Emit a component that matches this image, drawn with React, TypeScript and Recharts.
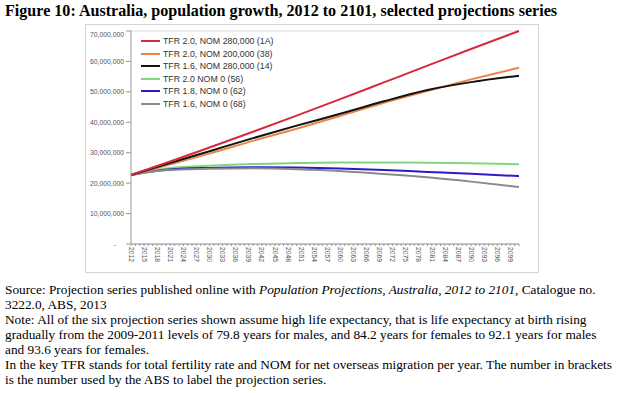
import { CartesianGrid, Line, LineChart, XAxis, YAxis } from 'recharts'

// projection years (values in millions)
const years = [2012, 2020, 2030, 2040, 2050, 2060, 2070, 2080, 2090, 2101]

const tfr20Nom280 = [22.7, 26.6, 31.7, 36.9, 42.2, 47.6, 53.1, 58.6, 64.1, 70.0]
const tfr20Nom200 = [22.7, 25.8, 29.7, 33.9, 37.9, 42.1, 46.4, 50.3, 54.1, 57.9]
const tfr16Nom280 = [22.7, 26.2, 30.5, 34.8, 38.9, 42.8, 46.9, 50.6, 53.2, 55.3]
const tfr20Nom0 = [22.7, 24.8, 25.7, 26.3, 26.6, 26.8, 26.8, 26.7, 26.5, 26.2]
const tfr18Nom0 = [22.7, 24.4, 25.0, 25.2, 25.1, 24.8, 24.3, 23.7, 23.1, 22.3]
const tfr16Nom0 = [22.7, 24.2, 24.7, 24.9, 24.6, 24.0, 23.0, 21.9, 20.5, 18.7]

const yTicks = [0, 10000000, 20000000, 30000000, 40000000, 50000000, 60000000, 70000000]
const allYears = Array.from({ length: 90 }, (_, i) => 2012 + i)
const labelYears = Array.from({ length: 30 }, (_, i) => 2012 + i * 3)

const series = [
  { key: 's1A', name: 'TFR 2.0, NOM 280,000 (1A)', color: '#d62a3c', values: tfr20Nom280 },
  { key: 's38', name: 'TFR 2.0, NOM 200,000 (38)', color: '#e8864a', values: tfr20Nom200 },
  { key: 's14', name: 'TFR 1.6, NOM 280,000 (14)', color: '#111111', values: tfr16Nom280 },
  { key: 's56', name: 'TFR 2.0 NOM 0 (56)', color: '#7ed77e', values: tfr20Nom0 },
  { key: 's62', name: 'TFR 1.8, NOM 0 (62)', color: '#3018c8', values: tfr18Nom0 },
  { key: 's68', name: 'TFR 1.6, NOM 0 (68)', color: '#8a8a8a', values: tfr16Nom0 }
]

const drawOrder = ['s56', 's62', 's68', 's38', 's14', 's1A']

const data = years.map((year, i) => {
  const row: Record<string, number> = { year }
  series.forEach(s => { row[s.key] = s.values[i] * 1000000 })
  return row
})

const chartFont = '"Liberation Sans", Arial, sans-serif'

const YTick = (props: any) => {
  const { x, y, payload } = props
  const v = payload.value as number
  const label = v === 0 ? '-' : v.toLocaleString('en-US')
  return (
    <text x={v === 0 ? x - 8 : x} y={y} dy={2.5} textAnchor="end" fontSize={6.8} fill="#555" fontFamily={chartFont}>
      {label}
    </text>
  )
}

const XTick = (props: any) => {
  const { x, y, payload } = props
  const v = payload.value as number
  if (!labelYears.includes(v)) return <g />
  return (
    <text
      x={x}
      y={y}
      transform={`rotate(90 ${x} ${y})`}
      dy={2.3}
      textAnchor="start"
      fontSize={6.8}
      fill="#555"
      fontFamily={chartFont}
    >
      {v}
    </text>
  )
}

// key drawn over the plot, top left
const KeyBox = () => (
  <div style={{ position: 'absolute', left: 55, top: 10, fontFamily: chartFont, fontSize: 8.8, color: '#333' }}>
    {series.map(s => (
      <div key={s.key} style={{ display: 'flex', alignItems: 'center', height: 12.5, whiteSpace: 'nowrap' }}>
        <span style={{ display: 'inline-block', width: 19, height: 2, background: s.color, marginRight: 3 }} />
        {s.name}
      </div>
    ))}
  </div>
)

export default function App() {
  return (
    <div style={{ position: 'absolute', left: 0, top: 0, width: 617, height: 393, background: '#fff', fontFamily: '"Liberation Serif", "Times New Roman", serif', color: '#000' }}>
      <div style={{ position: 'absolute', left: 5, top: 2, fontSize: 16.1, fontWeight: 'bold', whiteSpace: 'nowrap' }}>
        Figure 10: Australia, population growth, 2012 to 2101, selected projections series
      </div>

      <div style={{ position: 'absolute', left: 85, top: 24, width: 454, height: 249, boxSizing: 'border-box', border: '1px solid #d6d6d6' }}>
        <LineChart width={452} height={247} data={data} margin={{ top: 6, right: 19, bottom: 0, left: 0 }}>
          <CartesianGrid vertical={false} stroke="#dedede" />
          <XAxis
            dataKey="year"
            type="number"
            domain={[2012, 2101]}
            ticks={allYears}
            interval={0}
            tick={<XTick />}
            tickSize={2}
            tickMargin={1}
            height={28}
            stroke="#999"
          />
          <YAxis
            yAxisId="left"
            domain={[0, 70000000]}
            ticks={yTicks}
            tick={<YTick />}
            tickSize={5}
            tickMargin={2}
            width={45}
            stroke="#999"
          />
          <YAxis yAxisId="right" orientation="right" width={0} tick={false} tickLine={false} stroke="#bdbdbd" />
          {drawOrder.map(k => {
            const s = series.find(d => d.key === k)!
            return (
              <Line
                key={s.key}
                yAxisId="left"
                type="monotone"
                dataKey={s.key}
                name={s.name}
                stroke={s.color}
                strokeWidth={2}
                dot={false}
                isAnimationActive={false}
              />
            )
          })}
        </LineChart>
        <KeyBox />
      </div>

      <div style={{ position: 'absolute', left: 5, top: 282, fontSize: 13.3, lineHeight: '15px', whiteSpace: 'nowrap' }}>
        Source: Projection series published online with <i>Population Projections, Australia, 2012 to 2101</i>, Catalogue no.
        <br />
        3222.0, ABS, 2013
        <br />
        Note: All of the six projection series shown assume high life expectancy, that is life expectancy at birth rising
        <br />
        gradually from the 2009-2011 levels of 79.8 years for males, and 84.2 years for females to 92.1 years for males
        <br />
        and 93.6 years for females.
        <br />
        In the key TFR stands for total fertility rate and NOM for net overseas migration per year. The number in brackets
        <br />
        is the number used by the ABS to label the projection series.
      </div>
    </div>
  )
}
